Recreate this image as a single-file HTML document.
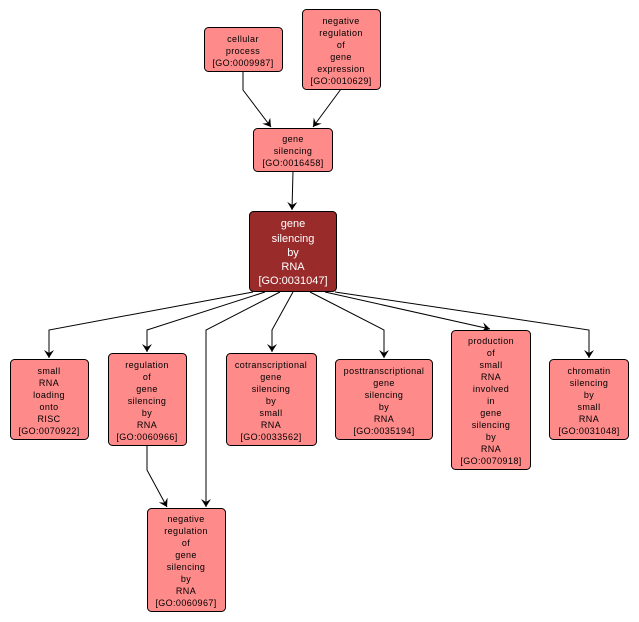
<!DOCTYPE html>
<html><head><meta charset="utf-8"><style>
html,body{margin:0;padding:0;background:#fff;width:639px;height:622px;overflow:hidden}
svg text{font-family:"Liberation Sans",sans-serif;font-size:9px;text-anchor:middle;letter-spacing:0.4px;fill:#000}
svg text.w{fill:#fff;font-size:11px;letter-spacing:0}
</style></head><body>
<svg width="639" height="622" viewBox="0 0 639 622" xmlns="http://www.w3.org/2000/svg">
<defs><marker id="a" markerWidth="10" markerHeight="10" refX="8" refY="5" orient="auto" markerUnits="userSpaceOnUse"><path d="M0,0 L8,5 L0,10 L3,5 Z" fill="#000"/></marker></defs>
<g fill="none" stroke="#000" stroke-width="1">
<polyline points="243,71 243,90 271,127" marker-end="url(#a)"/>
<polyline points="341,89 313,127" marker-end="url(#a)"/>
<polyline points="293,171 292,210" marker-end="url(#a)"/>
<polyline points="253,292 49,330 49,358" marker-end="url(#a)"/>
<polyline points="265,292 147,330 147,352" marker-end="url(#a)"/>
<polyline points="280,292 206,330 206,507" marker-end="url(#a)"/>
<polyline points="293,292 272,330 272,352" marker-end="url(#a)"/>
<polyline points="310,292 384,330 384,358" marker-end="url(#a)"/>
<polyline points="325,292 490,329" marker-end="url(#a)"/>
<polyline points="335,292 589,330 589,358" marker-end="url(#a)"/>
<polyline points="147,445 147,470 167,507" marker-end="url(#a)"/>
</g>
<g stroke="#000" stroke-width="1" fill="#ff8a8a">
<rect x="204.5" y="27.5" width="78" height="44" rx="4"/>
<rect x="302.5" y="9.5" width="78" height="80" rx="4"/>
<rect x="253.5" y="128.5" width="79" height="43" rx="4"/>
<rect x="249.5" y="211.5" width="87" height="80" rx="4" fill="#9a2b2b"/>
<rect x="10.5" y="359.5" width="78" height="80" rx="4"/>
<rect x="108.5" y="353.5" width="78" height="92" rx="4"/>
<rect x="226.5" y="353.5" width="90" height="92" rx="4"/>
<rect x="335.5" y="359.5" width="97" height="80" rx="4"/>
<rect x="451.5" y="330.5" width="79" height="139" rx="4"/>
<rect x="549.5" y="359.5" width="79" height="80" rx="4"/>
<rect x="147.5" y="508.5" width="78" height="103" rx="4"/>
</g>
<text x="243" y="42">cellular</text><text x="243" y="54">process</text><text x="243" y="66">[GO:0009987]</text>
<text x="341" y="24">negative</text><text x="341" y="36">regulation</text><text x="341" y="48">of</text><text x="341" y="60">gene</text><text x="341" y="72">expression</text><text x="341" y="84">[GO:0010629]</text>
<text x="293" y="142">gene</text><text x="293" y="154">silencing</text><text x="293" y="166">[GO:0016458]</text>
<text class="w" x="293" y="227">gene</text><text class="w" x="293" y="242">silencing</text><text class="w" x="293" y="256">by</text><text class="w" x="293" y="270">RNA</text><text class="w" x="293" y="284">[GO:0031047]</text>
<text x="49" y="374">small</text><text x="49" y="386">RNA</text><text x="49" y="398">loading</text><text x="49" y="410">onto</text><text x="49" y="422">RISC</text><text x="49" y="434">[GO:0070922]</text>
<text x="147" y="368">regulation</text><text x="147" y="380">of</text><text x="147" y="392">gene</text><text x="147" y="404">silencing</text><text x="147" y="416">by</text><text x="147" y="428">RNA</text><text x="147" y="440">[GO:0060966]</text>
<text x="271" y="368">cotranscriptional</text><text x="271" y="380">gene</text><text x="271" y="392">silencing</text><text x="271" y="404">by</text><text x="271" y="416">small</text><text x="271" y="428">RNA</text><text x="271" y="440">[GO:0033562]</text>
<text x="384" y="374">posttranscriptional</text><text x="384" y="386">gene</text><text x="384" y="398">silencing</text><text x="384" y="410">by</text><text x="384" y="422">RNA</text><text x="384" y="434">[GO:0035194]</text>
<text x="491" y="344">production</text><text x="491" y="356">of</text><text x="491" y="368">small</text><text x="491" y="380">RNA</text><text x="491" y="392">involved</text><text x="491" y="404">in</text><text x="491" y="416">gene</text><text x="491" y="428">silencing</text><text x="491" y="440">by</text><text x="491" y="452">RNA</text><text x="491" y="464">[GO:0070918]</text>
<text x="589" y="374">chromatin</text><text x="589" y="386">silencing</text><text x="589" y="398">by</text><text x="589" y="410">small</text><text x="589" y="422">RNA</text><text x="589" y="434">[GO:0031048]</text>
<text x="186" y="522">negative</text><text x="186" y="534">regulation</text><text x="186" y="546">of</text><text x="186" y="558">gene</text><text x="186" y="570">silencing</text><text x="186" y="582">by</text><text x="186" y="594">RNA</text><text x="186" y="606">[GO:0060967]</text>
</svg>
</body></html>
